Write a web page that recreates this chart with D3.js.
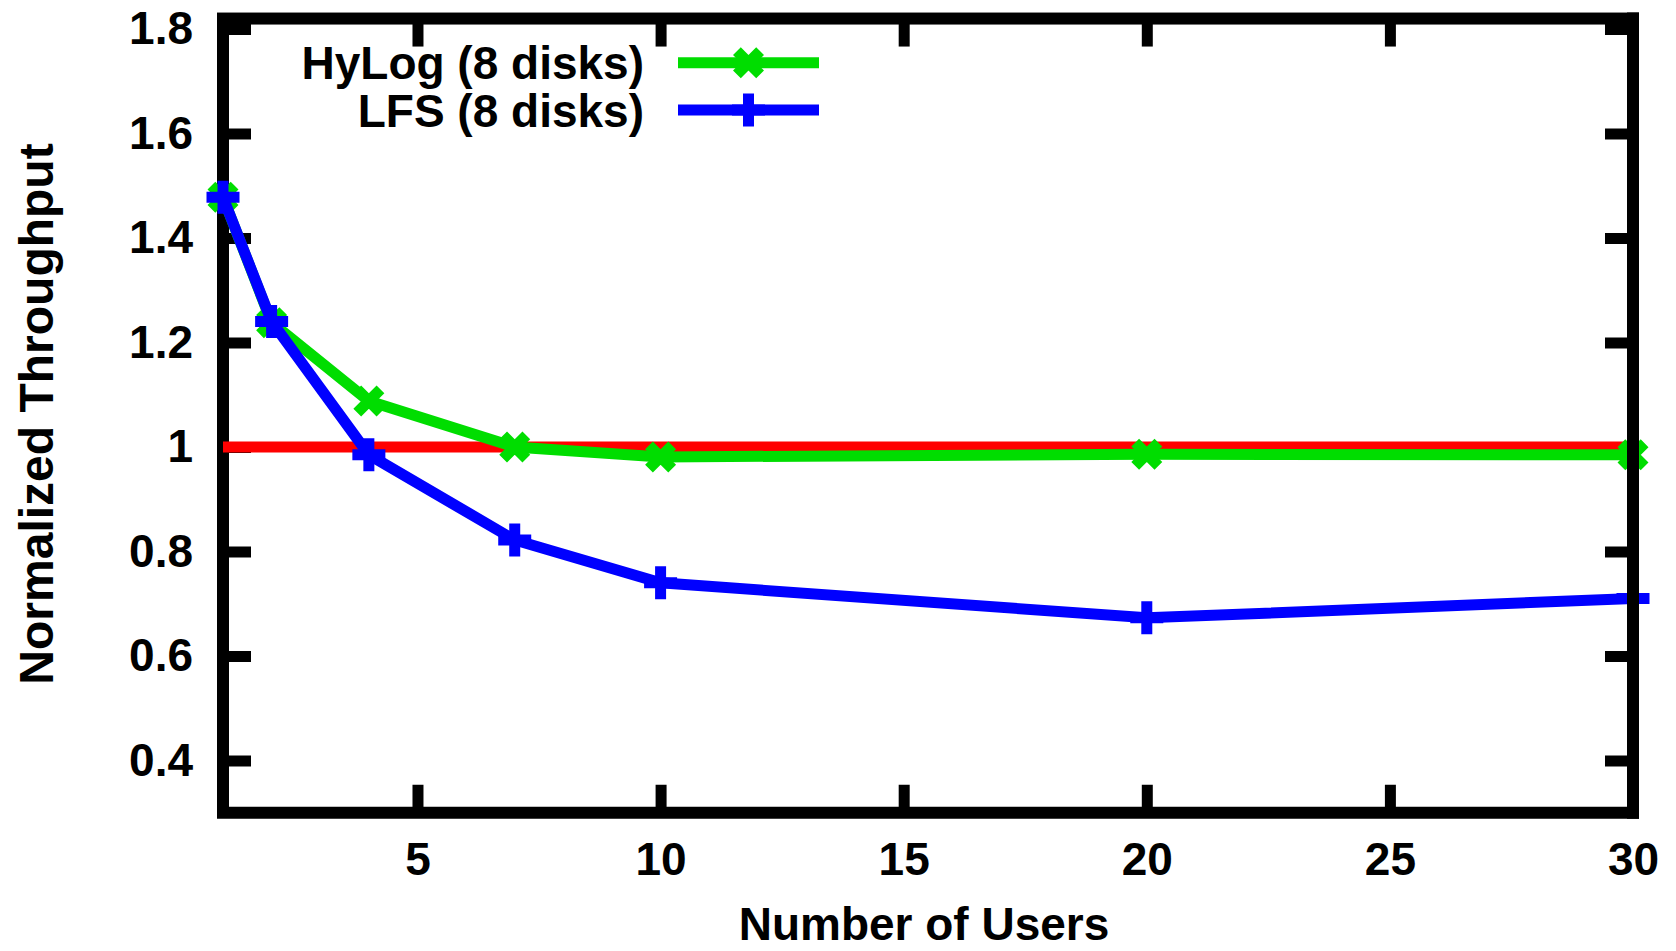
<!DOCTYPE html>
<html>
<head>
<meta charset="utf-8">
<script src="https://d3js.org/d3.v7.min.js"></script>
<style>
  body { margin: 0; background: #fff; }
  text { font-family: "Liberation Sans", Arial, sans-serif; font-weight: bold; fill: #000; }
</style>
</head>
<body>
<div id="chart"></div>
<script>
// data
var users = [1, 2, 4, 7, 10, 20, 30];
var hylog = [1.478, 1.238, 1.088, 1.0, 0.981, 0.986, 0.985];
var lfs = [1.478, 1.24, 0.985, 0.822, 0.740, 0.673, 0.710];

// reference line at 1 (ext4 baseline)
var baseX = [1, 30];
var baseY = [1, 1];

var xTicks = [5, 10, 15, 20, 25, 30];
var yTicks = [0.4, 0.6, 0.8, 1, 1.2, 1.4, 1.6, 1.8];

var seriesNames = ["HyLog (8 disks)", "LFS (8 disks)"];

var svgWidth = 1676;
var svgHeight = 951;

var plot = { left: 223, right: 1633, top: 18.55, bottom: 812.75 };

var svg = d3.select("#chart")
  .append("svg")
  .attr("width", svgWidth)
  .attr("height", svgHeight);

var xScale = d3.scaleLinear()
  .domain([1, 30])
  .range([plot.left, plot.right]);

var yScale = d3.scaleLinear()
  .domain([0.3, 1.82])
  .range([plot.bottom, plot.top]);

var fmt = function(d) { return String(+d.toFixed(1)); };

// frame
svg.append("rect")
  .attr("x", plot.left)
  .attr("y", plot.top)
  .attr("width", plot.right - plot.left)
  .attr("height", plot.bottom - plot.top)
  .attr("fill", "none")
  .attr("stroke", "#000")
  .attr("stroke-width", 12);

// axes, ticks pointing inwards
function styleAxis(g) {
  g.select(".domain").remove();
  g.selectAll(".tick line")
    .attr("stroke", "#000")
    .attr("stroke-width", 11);
  g.selectAll(".tick text")
    .attr("font-size", 46)
    .attr("font-family", null);
}

svg.append("g")
  .attr("transform", `translate(${plot.left},0)`)
  .call(d3.axisLeft(yScale).tickValues(yTicks).tickFormat(fmt).tickSize(-28).tickPadding(30))
  .call(styleAxis);

svg.append("g")
  .attr("transform", `translate(${plot.right},0)`)
  .call(d3.axisRight(yScale).tickValues(yTicks).tickFormat("").tickSize(-28))
  .call(styleAxis);

svg.append("g")
  .attr("transform", `translate(0,${plot.bottom})`)
  .call(d3.axisBottom(xScale).tickValues(xTicks).tickFormat(d3.format("d")).tickSize(-28).tickPadding(30))
  .call(styleAxis);

svg.append("g")
  .attr("transform", `translate(0,${plot.top})`)
  .call(d3.axisTop(xScale).tickValues(xTicks).tickFormat("").tickSize(-28))
  .call(styleAxis);

// axis titles
svg.append("text")
  .attr("x", 924)
  .attr("y", 940)
  .attr("text-anchor", "middle")
  .attr("font-size", 46)
  .text("Number of Users");

svg.append("text")
  .attr("transform", "translate(53,414) rotate(-90)")
  .attr("text-anchor", "middle")
  .attr("font-size", 48)
  .text("Normalized Throughput");

// marker shapes
function crossX(a) { return `M${-a},${-a}L${a},${a}M${-a},${a}L${a},${-a}`; }
function plus(a) { return `M${-a},0L${a},0M0,${-a}L0,${a}`; }

var line = d3.line()
  .x(d => xScale(d[0]))
  .y(d => yScale(d[1]));

// red baseline
svg.append("path")
  .datum(d3.zip(baseX, baseY))
  .attr("d", line)
  .attr("fill", "none")
  .attr("stroke", "#ff0000")
  .attr("stroke-width", 11);

var series = [
  { name: seriesNames[0], values: hylog, color: "#00dd00", marker: crossX(11.6) },
  { name: seriesNames[1], values: lfs, color: "#0000ff", marker: plus(16.5) }
];

series.forEach(function(s) {
  var pts = d3.zip(users, s.values);

  svg.append("path")
    .datum(pts)
    .attr("d", line)
    .attr("fill", "none")
    .attr("stroke", s.color)
    .attr("stroke-width", 11)
    .attr("stroke-linejoin", "miter");

  svg.selectAll(null)
    .data(pts)
    .enter()
    .append("path")
    .attr("transform", d => `translate(${xScale(d[0])},${yScale(d[1])})`)
    .attr("d", s.marker)
    .attr("fill", "none")
    .attr("stroke", s.color)
    .attr("stroke-width", 11);
});

// right border sits on top of the data
svg.append("line")
  .attr("x1", plot.right)
  .attr("x2", plot.right)
  .attr("y1", plot.top - 6)
  .attr("y2", plot.bottom + 6)
  .attr("stroke", "#000")
  .attr("stroke-width", 12);

// legend
var legend = svg.append("g");
series.forEach(function(s, i) {
  var ly = 62.7 + i * 47.3;
  legend.append("text")
    .attr("x", 644)
    .attr("y", ly + 16.5)
    .attr("text-anchor", "end")
    .attr("font-size", 46)
    .text(s.name);
  legend.append("line")
    .attr("x1", 678)
    .attr("x2", 819)
    .attr("y1", ly)
    .attr("y2", ly)
    .attr("stroke", s.color)
    .attr("stroke-width", 11);
  legend.append("path")
    .attr("transform", `translate(748.5,${ly})`)
    .attr("d", s.marker)
    .attr("fill", "none")
    .attr("stroke", s.color)
    .attr("stroke-width", 11);
});
</script>
</body>
</html>
